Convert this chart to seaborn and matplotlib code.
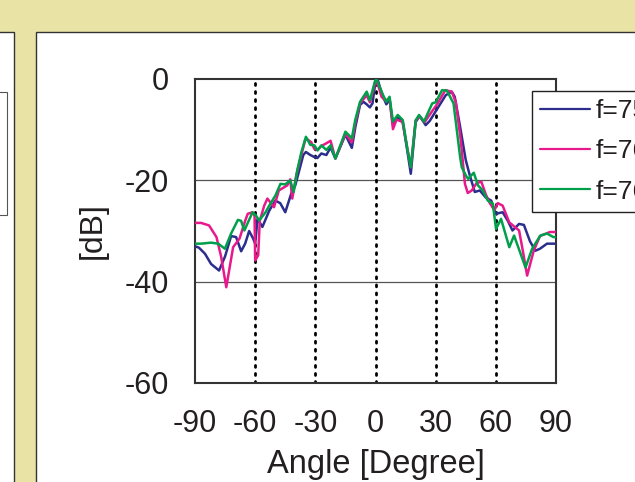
import numpy as np
import pandas as pd
import seaborn as sns
import matplotlib.pyplot as plt
from matplotlib.patches import Rectangle

# values (angle in degree, level in dB)
ang_75 = [-90, -88, -85, -82, -78, -75, -72, -69.5, -67, -65, -63, -61, -60, -58.8, -56.4,
          -53, -50, -47.5, -45, -42, -40, -38, -36, -34.7, -32.5, -30.5, -29, -27, -24.5,
          -22.4, -20, -15, -11.8, -10, -7.7, -6, -4.4, -2.8, -1.5, 0, 1, 2.5, 3.8, 5.4, 7,
          8.7, 11, 13.5, 16, 17.6, 20, 22, 25, 27, 35, 38, 39.5, 42, 45, 47, 49.5, 52, 55,
          57.7, 60, 63.4, 66, 68.3, 71.6, 74, 77, 79.7, 82, 85.5, 90]
db_75 = [-33, -33.3, -34.5, -36.5, -37.8, -35, -31, -31.2, -34, -32.5, -30, -31.5, -32.5,
         -27.6, -29.2, -26, -24, -24.5, -26.3, -22.6, -21, -18, -15, -14.4, -15, -15.4,
         -15.6, -14.7, -15, -13.5, -15.7, -11, -13.6, -9.4, -5.1, -4.5, -5, -5.6, -4.8,
         -0.5, 0, -2, -3.5, -5, -4, -9, -7.5, -8.3, -14.5, -18.7, -8.5, -7.3, -9.1, -8.3,
         -3.2, -2.5, -3.5, -9, -16, -19, -22.3, -22, -23.4, -24, -26.6, -26.3, -28, -29.9,
         -28.6, -28.8, -32, -33.9, -33.5, -32.5, -32.5]

ang_76 = [-90, -87, -83, -79.3, -77, -74.4, -71, -67.8, -65, -63.7, -61.3, -60.3, -60,
          -58.5, -57.7, -55.5, -53.9, -50.6, -48.2, -44, -42.5, -41.5, -39.5, -37, -35,
          -34, -32, -30.5, -29, -27, -25, -22.4, -20, -15, -11.8, -10, -7.7, -4.4, -2.8,
          -1, 0, 1.5, 3, 5, 7, 8.7, 10.5, 13.5, 16, 17.6, 20, 22, 24.5, 28, 31, 34.8, 38,
          40, 42.5, 44.6, 46, 48, 50.5, 52.8, 55, 57, 59.3, 61, 63.4, 66.7, 71.6, 73.5,
          75.6, 78.9, 82, 87, 90]
db_76 = [-28.4, -28.4, -28.9, -31.2, -35, -41.1, -33.2, -31.5, -28, -26.6, -26.3, -27,
         -35.8, -34.8, -28, -25, -23.6, -25.3, -22, -21, -19.8, -23.6, -19, -15, -12,
         -11.9, -12.5, -13.8, -14, -13.2, -12.8, -12.2, -15.7, -10.8, -12.5, -8.5, -4.8,
         -3.2, -4.6, -2, -0.3, -1.5, -3.5, -4.3, -3.8, -9.9, -8, -8.5, -14, -17.4, -8.2,
         -7.4, -8.5, -6.5, -4.8, -2.2, -2.5, -4.5, -12, -20.7, -22.5, -22, -20.5, -20.3,
         -22.8, -24.5, -25.9, -24.5, -25, -28.3, -29.9, -34, -38.8, -33.9, -31, -30.2, -30.2]

ang_765 = [-90, -87, -82, -78.4, -75.1, -72, -68.6, -67, -65.4, -61.3, -59.5, -58, -54.8,
           -53, -49.9, -47.4, -45, -42.5, -40.8, -39, -37, -34.7, -32.5, -30.5, -28.9, -27,
           -24.5, -22.4, -20, -15, -11.8, -10.1, -7.7, -4.4, -2.8, -0.3, 0.5, 2, 3.8, 5.4,
           7, 8.7, 11.1, 13.6, 16, 17.6, 20.1, 21.7, 24.2, 28.3, 30, 33.2, 35.6, 38.9, 42.2,
           43, 45.4, 46.2, 49, 51.1, 53.5, 56, 58.5, 60.1, 62.6, 66.7, 69.1, 74.8, 78.1,
           82.2, 85.5, 88.7, 90]
db_765 = [-32.5, -32.5, -32.3, -32.5, -33.5, -30.5, -27.8, -28, -29.9, -26.3, -27, -27.9,
          -26.3, -25, -23, -20.7, -20.8, -20, -22.3, -18, -14.5, -11.4, -13, -13.1, -14.1,
          -13.1, -14, -13.1, -15.7, -10.4, -11.7, -8.1, -4.5, -2.5, -4.2, -0.5, 0, -1.5,
          -3.2, -4.5, -3.5, -8.4, -7.1, -8.1, -14.1, -17.4, -8.1, -7.1, -8.4, -4.8, -4.6,
          -2.2, -2.3, -4.8, -15.4, -17.4, -19.3, -19.7, -18.5, -21, -22, -24, -24.6, -29.6,
          -27.6, -33.2, -30.9, -37.2, -33.5, -30.9, -30.5, -31.2, -31.2]

labels = ["f=75GHz", "f=76GHz", "f=76.5GHz"]
colors = ["#2b2e8c", "#e8198b", "#00a04a"]

df = pd.concat([
    pd.DataFrame({"angle": ang_75, "dB": db_75, "f": labels[0]}),
    pd.DataFrame({"angle": ang_76, "dB": db_76, "f": labels[1]}),
    pd.DataFrame({"angle": ang_765, "dB": db_765, "f": labels[2]}),
])

sns.set_style("white")
plt.rcParams['font.family'] = ['Liberation Sans', 'DejaVu Sans']
plt.rcParams['axes.unicode_minus'] = False
txt = "#231f20"

fig = plt.figure(figsize=(6.35, 4.82), dpi=100, facecolor="#e9e4a6")

# slide panels behind the chart (zorder below the axes)
fig.patches.append(Rectangle((-0.01, -0.01), 14 / 635 + 0.01, 1 - 32 / 482 + 0.01,
                             transform=fig.transFigure, facecolor="white",
                             edgecolor="#333333", lw=1, zorder=-2))
fig.patches.append(Rectangle((-0.01, 1 - 215 / 482), 7 / 635 + 0.01, 123 / 482,
                             transform=fig.transFigure, facecolor="white",
                             edgecolor="#555555", lw=0.8, zorder=-1))
fig.patches.append(Rectangle((36 / 635, -0.01), 1.0, 1 - 32 / 482 + 0.01,
                             transform=fig.transFigure, facecolor="white",
                             edgecolor="#333333", lw=1, zorder=-2))

ax = fig.add_axes([195 / 635, 1 - 383 / 482, 361 / 635, 304 / 482])
ax.set_facecolor("white")

for y in [-20, -40]:
    ax.axhline(y, color="#555555", lw=0.9, zorder=1)
for x in [-60, -30, 0, 30, 60]:
    ax.axvline(x, color="black", lw=2, linestyle=(0, (0.7, 2.2)),
               dash_capstyle="round", zorder=1)

sns.lineplot(data=df, x="angle", y="dB", hue="f", palette=dict(zip(labels, colors)),
             sort=False, estimator=None, lw=1.8, ax=ax, zorder=3)

ax.set_xlim(-90, 90)
ax.set_ylim(-60, 0)
ax.set_xticks([-90, -60, -30, 0, 30, 60, 90])
ax.set_yticks([0, -20, -40, -60])
ax.tick_params(length=0, labelsize=22, colors=txt)
ax.tick_params(axis="y", pad=19)
ax.tick_params(axis="x", pad=19)
ax.set_xlabel("Angle [Degree]", fontsize=23.5, color=txt, labelpad=7)
ax.set_ylabel("[dB]", fontsize=23, color=txt, labelpad=12)
for s in ax.spines.values():
    s.set_color("#333333")
    s.set_linewidth(1.5)

leg = ax.legend(loc="upper left", bbox_to_anchor=(532 / 635, 1 - 91 / 482),
                bbox_transform=fig.transFigure, borderaxespad=0, fontsize=19,
                frameon=True, fancybox=False, framealpha=1, edgecolor="#222222",
                handlelength=1.9, handletextpad=0.2, labelspacing=0.62,
                borderpad=0.3, title=None)
leg.get_frame().set_linewidth(1.0)
for line in leg.get_lines():
    line.set_linewidth(1.6)
for t in leg.get_texts():
    t.set_color(txt)

fig.savefig("out.png", dpi=100, facecolor=fig.get_facecolor())
